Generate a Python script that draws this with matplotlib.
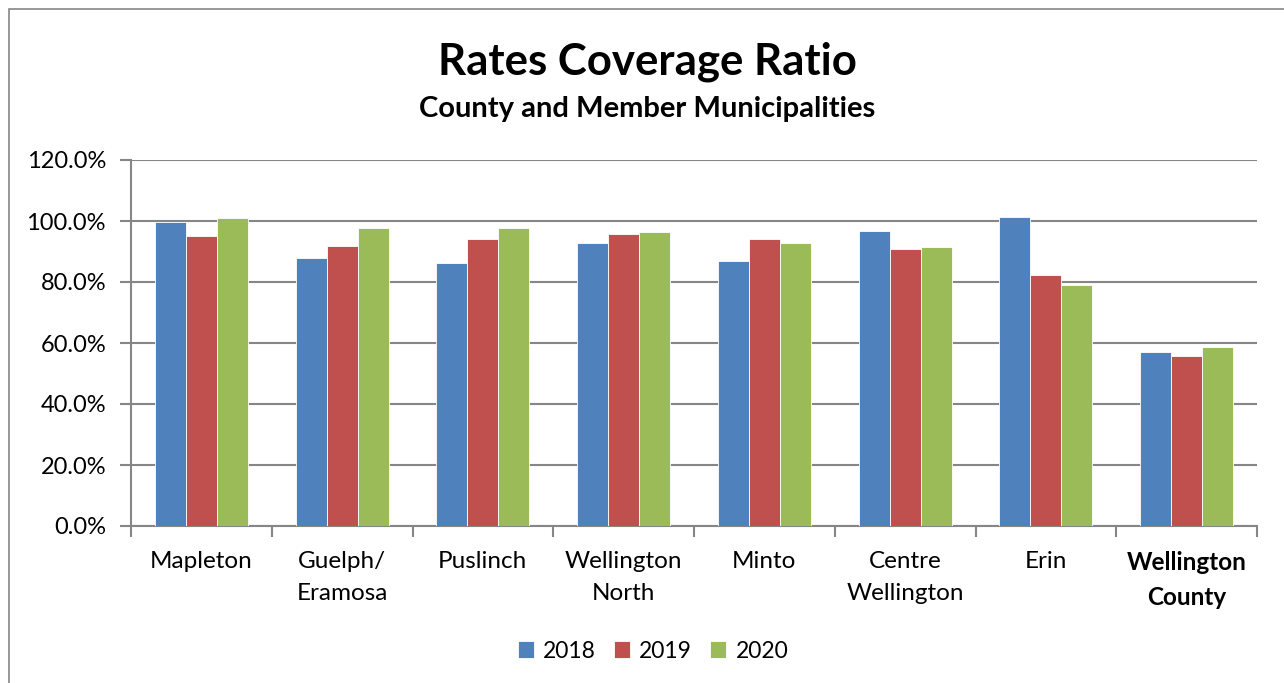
import matplotlib.pyplot as plt
import numpy as np
from matplotlib.patches import Rectangle

categories = ["Mapleton", "Guelph/\nEramosa", "Puslinch", "Wellington\nNorth", "Minto",
              "Centre\nWellington", "Erin", "Wellington\nCounty"]
years = ["2018", "2019", "2020"]
vals_2018 = [99.8, 87.9, 86.3, 92.8, 87.0, 96.7, 101.2, 57.0]
vals_2019 = [95.1, 91.7, 94.0, 95.7, 94.2, 90.8, 82.3, 55.7]
vals_2020 = [101.0, 97.8, 97.6, 96.4, 92.7, 91.5, 79.0, 58.7]
colors = ["#4F81BD", "#C0504D", "#9BBB59"]

plt.rcParams['font.family'] = ['Lato', 'DejaVu Sans']

fig = plt.figure(figsize=(12.84, 6.83), dpi=100)
ax = fig.add_axes([131 / 1284, 1 - 526 / 683, (1257 - 131) / 1284, (526 - 160) / 683])

x = np.arange(len(categories))
w = 0.22
for i, (vals, c, yr) in enumerate(zip([vals_2018, vals_2019, vals_2020], colors, years)):
    ax.bar(x + (i - 1) * w, vals, w, color=c, edgecolor='white', linewidth=0.6, label=yr, zorder=3)

ax.set_xlim(-0.5, len(categories) - 0.5)
ax.set_ylim(0, 120)
ax.set_yticks(np.arange(0, 121, 20))
ax.set_yticklabels([f"{v:.1f}%" for v in np.arange(0, 121, 20)], fontsize=17)
ax.yaxis.grid(True, color='#868686', linewidth=1.5, zorder=0)

ax.set_xticks(x)
ax.set_xticklabels(categories, fontsize=17.5, linespacing=1.65)
ax.get_xticklabels()[-1].set_fontweight('bold')
ax.tick_params(axis='x', length=0, pad=18)
ax.set_xticks(np.arange(-0.5, len(categories), 1), minor=True)
ax.tick_params(axis='x', which='minor', length=8, color='#868686', width=1.5)
ax.tick_params(axis='y', length=8, color='#868686', width=1.5, pad=10)

for s in ['top', 'right']:
    ax.spines[s].set_visible(False)
for s in ['left', 'bottom']:
    ax.spines[s].set_color('#868686')
    ax.spines[s].set_linewidth(1.5)

fig.text(647 / 1284, 1 - 62 / 683, "Rates Coverage Ratio", ha='center', va='center',
         fontsize=31.5, fontweight='bold')
fig.text(647 / 1284, 1 - 109 / 683, "County and Member Municipalities", ha='center', va='center',
         fontsize=21, fontweight='bold')

fig.legend(loc='center', bbox_to_anchor=(653 / 1284, 1 - 651 / 683), ncol=3, frameon=False,
           fontsize=16.5, handlelength=0.7, handleheight=0.7, handletextpad=0.4, columnspacing=0.8)

fig.patches.append(Rectangle((9 / 1284, -0.01), 1.02, 1 - 9 / 683 + 0.01, transform=fig.transFigure,
                             fill=False, edgecolor='#868686', linewidth=1.2))

fig.savefig("out.png", dpi=100)
